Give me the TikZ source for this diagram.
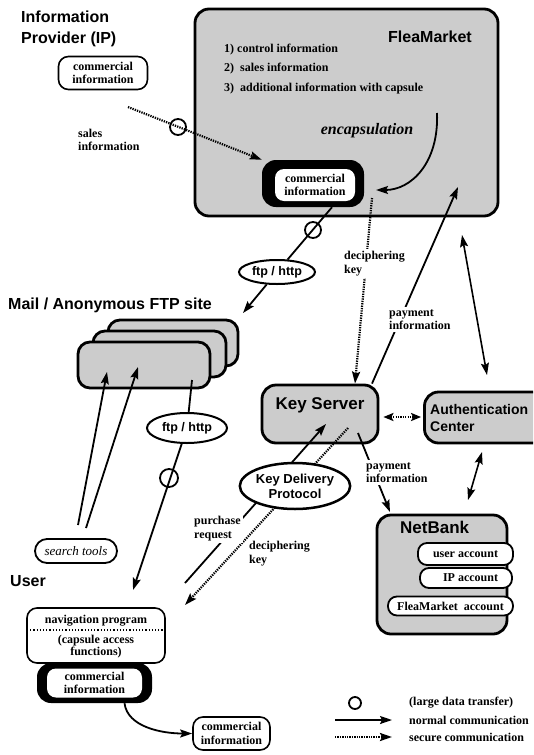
\documentclass[tikz,border=0pt]{standalone}
\usepackage{fontspec}
\setmainfont{Liberation Serif}
\setsansfont{Liberation Sans}
\usetikzlibrary{arrows.meta,shapes.geometric,calc}
\begin{document}
\begin{tikzpicture}[x=1pt,y=-1pt,
  ttl/.style={font=\sffamily\bfseries\fontsize{16}{21}\selectfont, inner sep=0pt, align=left},
  lbl/.style={font=\bfseries\fontsize{12}{13.5}\selectfont, inner sep=1pt, align=left},
  wlbl/.style={lbl, fill=white, inner sep=2pt},
  gbox/.style={draw, line width=2.8pt, fill=black!20, rounded corners=14pt, inner sep=0pt},
  wbox/.style={draw, line width=1.6pt, fill=white, rounded corners=10pt, inner sep=1pt, align=center, font=\bfseries\fontsize{12}{13.5}\selectfont},
  blk/.style={fill=black, rounded corners=14pt, inner sep=0pt},
  inwhite/.style={fill=white, rounded corners=9pt, inner sep=0pt, align=center, font=\bfseries\fontsize{12}{13.5}\selectfont},
  pill/.style={draw, line width=1.8pt, fill=white, rounded corners=9pt, inner sep=0pt, font=\bfseries\fontsize{12}{13}\selectfont},
  circ/.style={circle, draw, line width=1.8pt, minimum size=16pt, inner sep=0pt},
  ell/.style={ellipse, draw, line width=2pt, fill=white, inner sep=0pt, font=\sffamily\bfseries\fontsize{12.5}{14}\selectfont, align=center},
  atip/.style={-{Stealth[length=12pt,width=8pt,inset=2pt]}},
  ncom/.style={line width=1.8pt, atip},
  scom/.style={line width=2.2pt, dash pattern=on 1.3pt off 1.1pt, atip},
]
\useasboundingbox (0,0) rectangle (533,755);
\clip (0,0) rectangle (533,755);

% ---------------- Information Provider
\node[ttl, anchor=north west] (iptitle) at (21,11) {Information\\Provider (IP)};
\node[wbox, minimum width=89pt, minimum height=33pt] (ipci) at (103,73) {commercial\\information};
\node[lbl, anchor=west] (salesl) at (77,140) {sales\\information};

% ---------------- FleaMarket
\node[gbox, minimum width=303pt, minimum height=207pt] (fm) at (346.5,112.5) {};
\node[ttl, anchor=base west] (fmtitle) at (388,42) {FleaMarket};
\node[lbl, anchor=west] (li1) at (223,50) {1) control information};
\node[lbl, anchor=west] (li2) at (223,69) {2)\ \ sales information};
\node[lbl, anchor=west] (li3) at (223,89) {3)\ \ additional information with capsule};
\node[font=\bfseries\itshape\fontsize{16}{18}\selectfont, inner sep=0pt] (encap) at (367,131) {encapsulation};
\node[blk, minimum width=102pt, minimum height=47pt] (fmci) at (313,183.5) {};
\node[inwhite, minimum width=80pt, minimum height=32pt] (fmcit) at (315,185) {commercial\\information};
\coordinate (encS) at (437,113);
\coordinate (encE) at (376,190);
\draw[ncom] (encS) .. controls +(2,50) and +(35,0) .. (encE);

% IP -> FleaMarket (secure, large data)
\coordinate (ipsrc) at (128,107);
\draw[scom] (ipsrc) -- (fmci.north west);
\node[circ] (c1) at (178,127) {};

% ---------------- Mail / FTP site
\node[ttl, anchor=base west] (mailtitle) at (8,309) {Mail / Anonymous FTP site};
\node[gbox, rounded corners=12pt, minimum width=130pt, minimum height=46pt] (st3) at (173,343) {};
\node[gbox, rounded corners=12pt, minimum width=133pt, minimum height=46pt] (st2) at (159.5,354) {};
\node[gbox, rounded corners=12pt, minimum width=132pt, minimum height=46pt] (st1) at (144,365) {};

% FleaMarket -> ftp/http -> FTP site
\node[ell, minimum width=76pt, minimum height=24pt] (ftp1) at (277,272) {ftp / http};
\coordinate (ftpin) at (243,313);
\draw[line width=1.8pt] ($(fmci.south)+(19,0)$) -- (ftp1);
\draw[ncom] (ftp1) -- (ftpin);
\node[circ] (c2) at (313,230) {};

% ---------------- Key Server, Authentication Center, NetBank
\node[gbox, minimum width=116pt, minimum height=58pt] (ks) at (320,414) {};
\node[ttl, font=\sffamily\bfseries\fontsize{17}{20}\selectfont] (kst) at (320,405) {Key Server};
\node[gbox, minimum width=155pt, minimum height=51pt] (auth) at (502,417.5) {};
\node[ttl, anchor=north west, font=\sffamily\bfseries\fontsize{14}{17}\selectfont] (autht) at (430,404.5) {Authentication\\Center};
\node[gbox, minimum width=130pt, minimum height=119pt] (nb) at (442,574.5) {};
\node[ttl, anchor=base west, font=\sffamily\bfseries\fontsize{17}{20}\selectfont] (nbt) at (400,533) {NetBank};
\node[pill, minimum width=95pt, minimum height=22pt] (ua) at (465.5,554) {user account};
\node[pill, minimum width=92pt, minimum height=20pt] (ipa) at (466,578) {\ \ \ IP account};
\node[pill, minimum width=125pt, minimum height=19pt] (fma) at (450.5,606) {FleaMarket\ \ account};

% FleaMarket -> Key Server (deciphering key, secure)
\coordinate (dks) at (372,198);
\draw[scom] (dks) -- ($(ks.north)+(35,0)$);
\node[wlbl, anchor=west] (dkl1) at (342,263.5) {deciphering\\key};

% Key Server -> FleaMarket (payment information)
\coordinate (pfm) at (458,187);
\draw[ncom] ($(ks.north)+(52,0)$) -- (pfm);
\node[wlbl, anchor=west] (pl1) at (387,319.5) {payment\\information};

% FleaMarket <-> Authentication Center
\coordinate (fa1) at (462,235);
\coordinate (fa2) at (487,375);
\draw[line width=1.6pt, {Stealth[length=12pt,width=8pt,inset=2pt]}-{Stealth[length=12pt,width=8pt,inset=2pt]}] (fa1) -- (fa2);

% Key Server <-> Authentication Center (secure)
\draw[line width=2.2pt, dash pattern=on 1.3pt off 1.1pt, {Stealth[length=10pt,width=8pt,inset=2pt]}-{Stealth[length=10pt,width=8pt,inset=2pt]}] ($(ks.east)+(4,3)$) -- ($(ks.east -| auth.west)+(-2,3)$);

% Authentication Center <-> NetBank
\coordinate (an1) at (482,452);
\coordinate (an2) at (468,500);
\draw[line width=1.6pt, {Stealth[length=12pt,width=8pt,inset=2pt]}-{Stealth[length=12pt,width=8pt,inset=2pt]}] (an1) -- (an2);

% Key Server -> NetBank (payment information)
\coordinate (ksp) at (358,433);
\coordinate (nbp) at (390,512);
\draw[ncom] (ksp) -- (nbp);
\node[wlbl, anchor=west] (pl2) at (364,472.5) {payment\\information};

% User <-> Key Server via Key Delivery Protocol
\coordinate (prs) at (185,583);
\coordinate (prt) at (326,424);
\draw[ncom] (prs) -- (prt);
\coordinate (dk2s) at (348,428);
\coordinate (dk2t) at (185,605);
\draw[scom] (dk2s) -- (dk2t);
\node[ell, line width=2.5pt, minimum width=104pt, minimum height=46pt, font=\sffamily\bfseries\fontsize{13}{15}\selectfont] (kdp) at (295,486) {Key Delivery\\Protocol};
\node[wlbl, anchor=west] (prl) at (192,528.5) {purchase\\request};
\node[lbl, anchor=west] (dkl2) at (248,553.5) {deciphering\\key};

% ---------------- search tools
\node[pill, rounded corners=12pt, minimum width=82pt, minimum height=24pt, font=\itshape\fontsize{13}{14}\selectfont] (srch) at (76,551) {search tools};
\coordinate (sa1) at (78,525);
\coordinate (sa2) at (107,372);
\coordinate (sb1) at (86,528);
\coordinate (sb2) at (138,367);
\draw[ncom] (sa1) -- (sa2);
\draw[ncom] (sb1) -- (sb2);

% FTP site -> ftp/http -> User
\coordinate (ftpout) at (192,380);
\coordinate (utip) at (133,590);
\node[ell, minimum width=80pt, minimum height=30pt] (ftp2) at (187,428) {ftp / http};
\draw[line width=1.8pt] (ftpout) -- (ftp2);
\draw[ncom] (ftp2) -- (utip);
\node[circ, minimum size=18pt] (c3) at (169,478) {};

% ---------------- User
\node[ttl, anchor=base west] (usert) at (10,586) {User};
\node[blk, minimum width=115pt, minimum height=40pt] (uci) at (94.5,683) {};
\node[inwhite, minimum width=95pt, minimum height=29pt] (ucit) at (94.5,683) {commercial\\information};
\node[wbox, minimum width=138pt, minimum height=55pt] (nav) at (96,635.5) {};
\node[lbl, inner sep=0pt] (navt) at (96,621) {navigation program};
\draw[line width=1.2pt, dotted] (27,630) -- (167,630);
\node[lbl, inner sep=0pt, align=center, font=\bfseries\fontsize{12}{12}\selectfont] (capt) at (96,647) {(capsule access\\functions)};
\node[wbox, minimum width=77pt, minimum height=33pt] (cib) at (231.5,733.5) {commercial\\information};
\draw[ncom] ($(uci.south)+(30,0)$) .. controls +(3,24) and +(-30,0) .. (cib.west);

% ---------------- Legend
\node[circle, draw, line width=1.8pt, minimum size=12pt, inner sep=0pt] (legc) at (355,703) {};
\node[lbl, anchor=west] (lg1) at (408,703) {(large data transfer)};
\coordinate (l2a) at (335,720);
\coordinate (l2b) at (392,720);
\draw[ncom] (l2a) -- (l2b);
\node[lbl, anchor=west] (lg2) at (408,720) {normal communication};
\coordinate (l3a) at (335,737);
\coordinate (l3b) at (392,737);
\draw[scom] (l3a) -- (l3b);
\node[lbl, anchor=west] (lg3) at (408,737) {secure communication};
\end{tikzpicture}
\end{document}
